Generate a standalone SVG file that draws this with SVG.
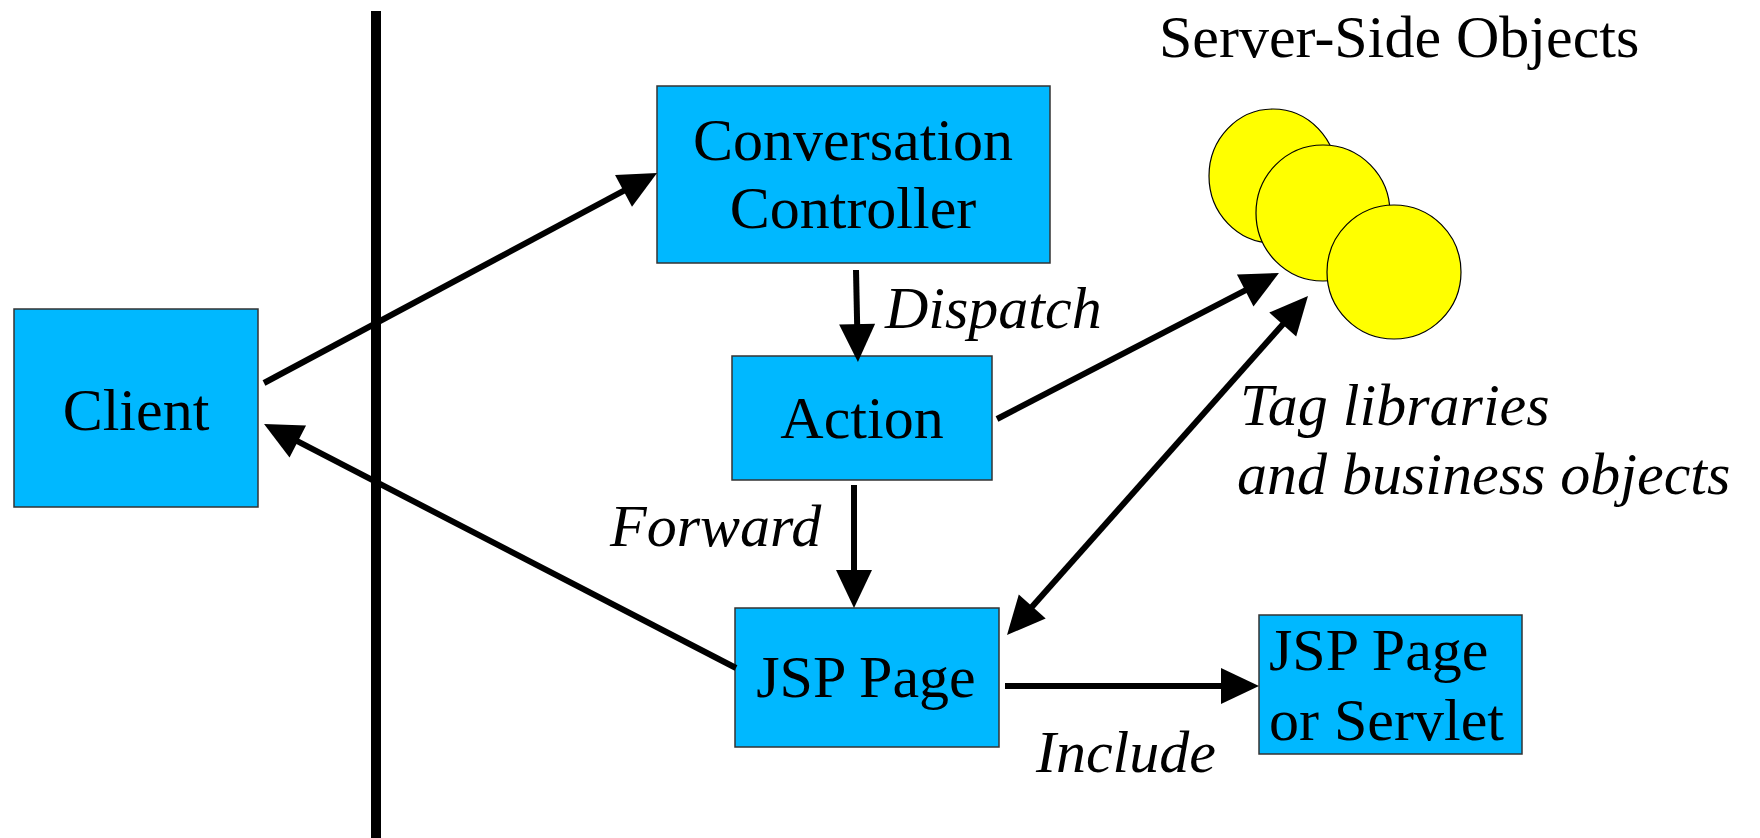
<svg xmlns="http://www.w3.org/2000/svg" width="1760" height="838" viewBox="0 0 1760 838">
<style>
.box{fill:#00b8ff;stroke:#333;stroke-width:1.5}
.obj{fill:#ffff00;stroke:#000;stroke-width:1.2}
.t{font-family:"Liberation Serif","Times New Roman",serif;font-size:60px;fill:#000}
.i{font-style:italic}
.c{fill:none;stroke:#000;stroke-width:6}
</style>
<defs>
<marker id="ah" markerUnits="userSpaceOnUse" markerWidth="40" markerHeight="36" refX="18" refY="18" orient="auto-start-reverse" overflow="visible">
<path d="M0,0 L38,18 L0,36 z" fill="#000"/>
</marker>
</defs>
<rect x="0" y="0" width="1760" height="838" fill="#fff"/>
<line x1="376" y1="11" x2="376" y2="838" stroke="#000" stroke-width="10"/>
<g id="title"><text class="t" x="1159" y="57">Server-Side Objects</text></g>
<g id="objects">
<ellipse class="obj" cx="1273" cy="176" rx="64" ry="67"/>
<ellipse class="obj" cx="1323" cy="213" rx="67" ry="68"/>
<ellipse class="obj" cx="1394" cy="272" rx="67" ry="67"/>
</g>
<g id="client"><rect class="box" x="14" y="309" width="244" height="198"/><text class="t" x="136" y="430" text-anchor="middle">Client</text></g>
<g id="controller"><rect class="box" x="657" y="86" width="393" height="177"/><text class="t" x="853" y="160" text-anchor="middle">Conversation</text><text class="t" x="853" y="228" text-anchor="middle">Controller</text></g>
<g id="action"><rect class="box" x="732" y="356" width="260" height="124"/><text class="t" x="862" y="438" text-anchor="middle">Action</text></g>
<g id="jsp"><rect class="box" x="735" y="608" width="264" height="139"/><text class="t" x="866" y="697" text-anchor="middle">JSP Page</text></g>
<g id="servlet"><rect class="box" x="1259" y="615" width="263" height="139"/><text class="t" x="1269" y="670">JSP Page</text><text class="t" x="1269" y="740">or Servlet</text></g>
<g id="connectors">
<line class="c" x1="264" y1="383" x2="639.4" y2="182.4" marker-end="url(#ah)"/>
<line class="c" x1="856" y1="270" x2="857.5" y2="342" marker-end="url(#ah)"/>
<line class="c" x1="997" y1="419" x2="1261.2" y2="282.2" marker-end="url(#ah)"/>
<line class="c" x1="1020.3" y1="620" x2="1294.7" y2="311" marker-start="url(#ah)" marker-end="url(#ah)"/>
<line class="c" x1="736" y1="668" x2="281.8" y2="433.2" marker-end="url(#ah)"/>
<line class="c" x1="854" y1="485" x2="854" y2="588" marker-end="url(#ah)"/>
<line class="c" x1="1005" y1="686" x2="1239" y2="686" marker-end="url(#ah)"/>
</g>
<g id="labels">
<text class="t i" x="885" y="328">Dispatch</text>
<text class="t i" x="610" y="546">Forward</text>
<text class="t i" x="1036" y="772">Include</text>
<text class="t i" x="1240" y="425">Tag libraries</text>
<text class="t i" x="1237" y="494">and business objects</text>
</g>
</svg>
